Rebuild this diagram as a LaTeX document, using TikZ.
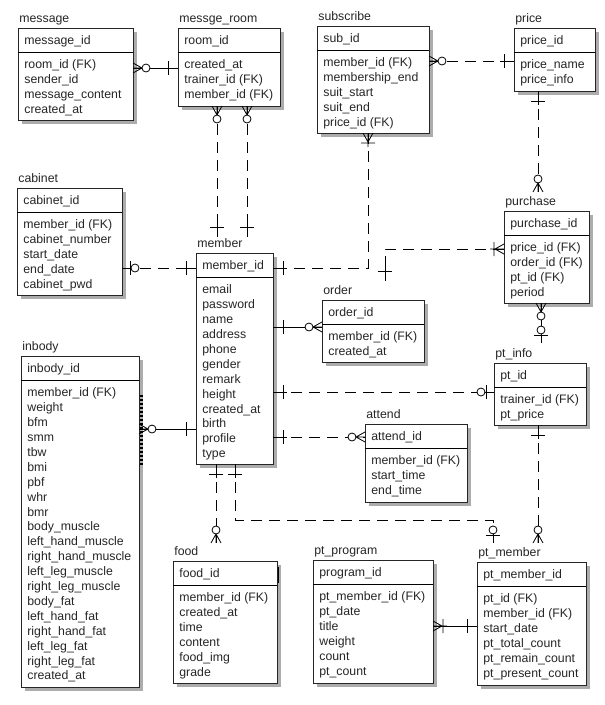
\documentclass[tikz,border=0pt]{standalone}
\usepackage{fontspec}
\newfontfamily\erfont{Liberation Sans}
\usetikzlibrary{shadows,decorations.markings}

\begin{document}
\begin{tikzpicture}[x=1pt, y=-1pt, line width=0.8pt,
    every node/.style={font=\erfont\fontsize{12.3}{14.9}\selectfont, text=black!85, inner sep=0pt},
    entity/.style={draw=black!85, fill=white, anchor=north west, outer sep=0pt,
      drop shadow={shadow xshift=3.5pt, shadow yshift=-3.5pt, fill=gray!65, opacity=1}},
    title/.style={anchor=base west, xshift=1pt, yshift=5.5pt},
    key/.style={anchor=base west, xshift=6pt, yshift=-16.5pt},
    attrs/.style={anchor=north west, align=left, xshift=6pt, yshift=-30pt},
    rel/.style={dash pattern=on 11pt off 7pt},
    idrel/.style={solid},
    sym/.style={solid, line width=0.8pt},
    from sym/.style={postaction={decorate, decoration={markings,
      mark=at position 0 with {\pic[transform shape]{#1};}}}},
    to sym/.style={postaction={decorate, decoration={markings,
      mark=at position 0.9999 with {\pic[transform shape, rotate=180]{#1};}}}},
    pics/one/.style={code={\draw[sym] (0,0) -- (14,0) (10,-7) -- (10,7);}},
    pics/zone/.style={code={\draw[sym] (0,0) -- (9,0) (8,-7) -- (8,7);
      \draw[sym, fill=white] (13,0) circle (4pt);}},
    pics/many/.style={code={\draw[sym] (0,-5) -- (9,0) -- (0,5) (0,0) -- (14,0) (10,-7) -- (10,7);}},
    pics/zmany/.style={code={\draw[sym] (0,-5) -- (9,0) -- (0,5) (0,0) -- (9,0);
      \draw[sym, fill=white] (13,0) circle (4pt);}}]
    \fill[white] (0,0) rectangle (605,705);
    \useasboundingbox (0,0) rectangle (605,705);
    % Nodes
    \node[entity, minimum width=115, minimum height=92] (message) at (18,28) {};
    \node[title] (message-t) at (message.north west) {message};
    \node[key] (message-k) at (message.north west) {message\_id};
    \node[attrs] (message-a) at (message.north west) {\strut room\_id (FK)\\sender\_id\\message\_content\\created\_at};
    \draw ([yshift=-24pt]message.north west) -- ([yshift=-24pt]message.north east);

    \node[entity, minimum width=102, minimum height=78] (room) at (178,28) {};
    \node[title] (room-t) at (room.north west) {messge\_room};
    \node[key] (room-k) at (room.north west) {room\_id};
    \node[attrs] (room-a) at (room.north west) {\strut created\_at\\trainer\_id (FK)\\member\_id (FK)};
    \draw ([yshift=-24pt]room.north west) -- ([yshift=-24pt]room.north east);

    \node[entity, minimum width=112, minimum height=107] (subscribe) at (317,26) {};
    \node[title] (subscribe-t) at (subscribe.north west) {subscribe};
    \node[key] (subscribe-k) at (subscribe.north west) {sub\_id};
    \node[attrs] (subscribe-a) at (subscribe.north west) {\strut member\_id (FK)\\membership\_end\\suit\_start\\suit\_end\\price\_id (FK)};
    \draw ([yshift=-24pt]subscribe.north west) -- ([yshift=-24pt]subscribe.north east);

    \node[entity, minimum width=81, minimum height=63] (price) at (514,28) {};
    \node[title] (price-t) at (price.north west) {price};
    \node[key] (price-k) at (price.north west) {price\_id};
    \node[attrs] (price-a) at (price.north west) {\strut price\_name\\price\_info};
    \draw ([yshift=-24pt]price.north west) -- ([yshift=-24pt]price.north east);

    \node[entity, minimum width=105, minimum height=107] (cabinet) at (17,188) {};
    \node[title] (cabinet-t) at (cabinet.north west) {cabinet};
    \node[key] (cabinet-k) at (cabinet.north west) {cabinet\_id};
    \node[attrs] (cabinet-a) at (cabinet.north west) {\strut member\_id (FK)\\cabinet\_number\\start\_date\\end\_date\\cabinet\_pwd};
    \draw ([yshift=-24pt]cabinet.north west) -- ([yshift=-24pt]cabinet.north east);

    \node[entity, minimum width=77, minimum height=211] (member) at (196,253) {};
    \node[title] (member-t) at (member.north west) {member};
    \node[key] (member-k) at (member.north west) {member\_id};
    \node[attrs] (member-a) at (member.north west) {\strut email\\password\\name\\address\\phone\\gender\\remark\\height\\created\_at\\birth\\profile\\type};
    \draw ([yshift=-24pt]member.north west) -- ([yshift=-24pt]member.north east);

    \node[entity, minimum width=85, minimum height=92] (purchase) at (504,211) {};
    \node[title] (purchase-t) at (purchase.north west) {purchase};
    \node[key] (purchase-k) at (purchase.north west) {purchase\_id};
    \node[attrs] (purchase-a) at (purchase.north west) {\strut price\_id (FK)\\order\_id (FK)\\pt\_id (FK)\\period};
    \draw ([yshift=-24pt]purchase.north west) -- ([yshift=-24pt]purchase.north east);

    \node[entity, minimum width=102, minimum height=62] (order) at (322,300) {};
    \node[title] (order-t) at (order.north west) {order};
    \node[key] (order-k) at (order.north west) {order\_id};
    \node[attrs] (order-a) at (order.north west) {\strut member\_id (FK)\\created\_at};
    \draw ([yshift=-24pt]order.north west) -- ([yshift=-24pt]order.north east);

    \node[entity, minimum width=118, minimum height=331] (inbody) at (21,356) {};
    \node[title] (inbody-t) at (inbody.north west) {inbody};
    \node[key] (inbody-k) at (inbody.north west) {inbody\_id};
    \node[attrs] (inbody-a) at (inbody.north west) {\strut member\_id (FK)\\weight\\bfm\\smm\\tbw\\bmi\\pbf\\whr\\bmr\\body\_muscle\\left\_hand\_muscle\\right\_hand\_muscle\\left\_leg\_muscle\\right\_leg\_muscle\\body\_fat\\left\_hand\_fat\\right\_hand\_fat\\left\_leg\_fat\\right\_leg\_fat\\created\_at};
    \draw ([yshift=-24pt]inbody.north west) -- ([yshift=-24pt]inbody.north east);
    \draw[line width=2.5pt, dash pattern=on 2pt off 2pt] ([shift={(2.5,39)}]inbody.north east) -- ++(0,70);

    \node[entity, minimum width=92, minimum height=62] (ptinfo) at (494,363) {};
    \node[title] (ptinfo-t) at (ptinfo.north west) {pt\_info};
    \node[key] (ptinfo-k) at (ptinfo.north west) {pt\_id};
    \node[attrs] (ptinfo-a) at (ptinfo.north west) {\strut trainer\_id (FK)\\pt\_price};
    \draw ([yshift=-24pt]ptinfo.north west) -- ([yshift=-24pt]ptinfo.north east);

    \node[entity, minimum width=102, minimum height=78] (attend) at (365,424) {};
    \node[title] (attend-t) at (attend.north west) {attend};
    \node[key] (attend-k) at (attend.north west) {attend\_id};
    \node[attrs] (attend-a) at (attend.north west) {\strut member\_id (FK)\\start\_time\\end\_time};
    \draw ([yshift=-24pt]attend.north west) -- ([yshift=-24pt]attend.north east);

    \node[entity, minimum width=104, minimum height=122] (food) at (173,561) {};
    \node[title] (food-t) at (food.north west) {food};
    \node[key] (food-k) at (food.north west) {food\_id};
    \node[attrs] (food-a) at (food.north west) {\strut member\_id (FK)\\created\_at\\time\\content\\food\_img\\grade};
    \draw ([yshift=-24pt]food.north west) -- ([yshift=-24pt]food.north east);
    \draw[line width=1.2pt] ([shift={(1.5,6)}]food.north east) -- ++(0,16);

    \node[entity, minimum width=120, minimum height=123] (ptprogram) at (313,560) {};
    \node[title] (ptprogram-t) at (ptprogram.north west) {pt\_program};
    \node[key] (ptprogram-k) at (ptprogram.north west) {program\_id};
    \node[attrs] (ptprogram-a) at (ptprogram.north west) {\strut pt\_member\_id (FK)\\pt\_date\\title\\weight\\count\\pt\_count};
    \draw ([yshift=-24pt]ptprogram.north west) -- ([yshift=-24pt]ptprogram.north east);

    \node[entity, minimum width=109, minimum height=123] (ptmember) at (477,562) {};
    \node[title] (ptmember-t) at (ptmember.north west) {pt\_member};
    \node[key] (ptmember-k) at (ptmember.north west) {pt\_member\_id};
    \node[attrs] (ptmember-a) at (ptmember.north west) {\strut pt\_id (FK)\\member\_id (FK)\\start\_date\\pt\_total\_count\\pt\_remain\_count\\pt\_present\_count};
    \draw ([yshift=-24pt]ptmember.north west) -- ([yshift=-24pt]ptmember.north east);

    % Relationships
    \draw[idrel, from sym=zmany, to sym=one] ([yshift=-40pt]message.north east) -- ([yshift=-40pt]room.north west);
    \draw[rel, from sym=zmany, to sym=one] ([xshift=39pt]room.south west) -- ([shift={(21,-16)}]member.north west);
    \draw[rel, from sym=zmany, to sym=one] ([xshift=69pt]room.south west) -- ([shift={(51,-16)}]member.north west);
    \draw[rel, from sym=zmany, to sym=one] ([yshift=-35pt]subscribe.north east) -- ([yshift=-33pt]price.north west);
    \draw[rel, from sym=many, to sym=one] ([xshift=51pt]subscribe.south west) |- ([yshift=-15pt]member.north east);
    \draw[rel, from sym=one, to sym=zmany] ([xshift=24pt]price.south west) -- ([shift={(34,-19)}]purchase.north west);
    \draw[rel, from sym=many, to sym=one] ([yshift=-38pt]purchase.north west) -| ([shift={(63,-19)}]order.north west);
    \draw[idrel, from sym=one, to sym=zmany] ([yshift=-74pt]member.north east) -- ([yshift=-27pt]order.north west);
    \draw[idrel, from sym=zmany, to sym=zone] ([xshift=37pt]purchase.south west) -- ([shift={(47,-20)}]ptinfo.north west);
    \draw[rel, from sym=one, to sym=zone] ([yshift=-139pt]member.north east) -- ([yshift=-29pt]ptinfo.north west);
    \draw[rel, from sym=one, to sym=zmany] ([yshift=-184pt]member.north east) -- ([yshift=-13pt]attend.north west);
    \draw[rel, from sym=one, to sym=zmany] ([xshift=44pt]ptinfo.south west) -- ([shift={(61,-19)}]ptmember.north west);
    \draw[rel, from sym=one, to sym=zmany] ([xshift=20pt]member.south west) -- ([shift={(43,-18)}]food.north west);
    \draw[rel, from sym=one, to sym=zone] ([xshift=39pt]member.south west) -- ++(0,56) -| ([shift={(16,-19)}]ptmember.north west);
    \draw[idrel, from sym=zmany, to sym=one] ([yshift=-73pt]inbody.north east) -- ([yshift=-176pt]member.north west);
    \draw[rel, from sym=zone, to sym=one] ([yshift=-80pt]cabinet.north east) -- ([yshift=-15pt]member.north west);
    \draw[idrel, from sym=many, to sym=one] ([yshift=-66pt]ptprogram.north east) -- ([yshift=-64pt]ptmember.north west);
\end{tikzpicture}
\end{document}
